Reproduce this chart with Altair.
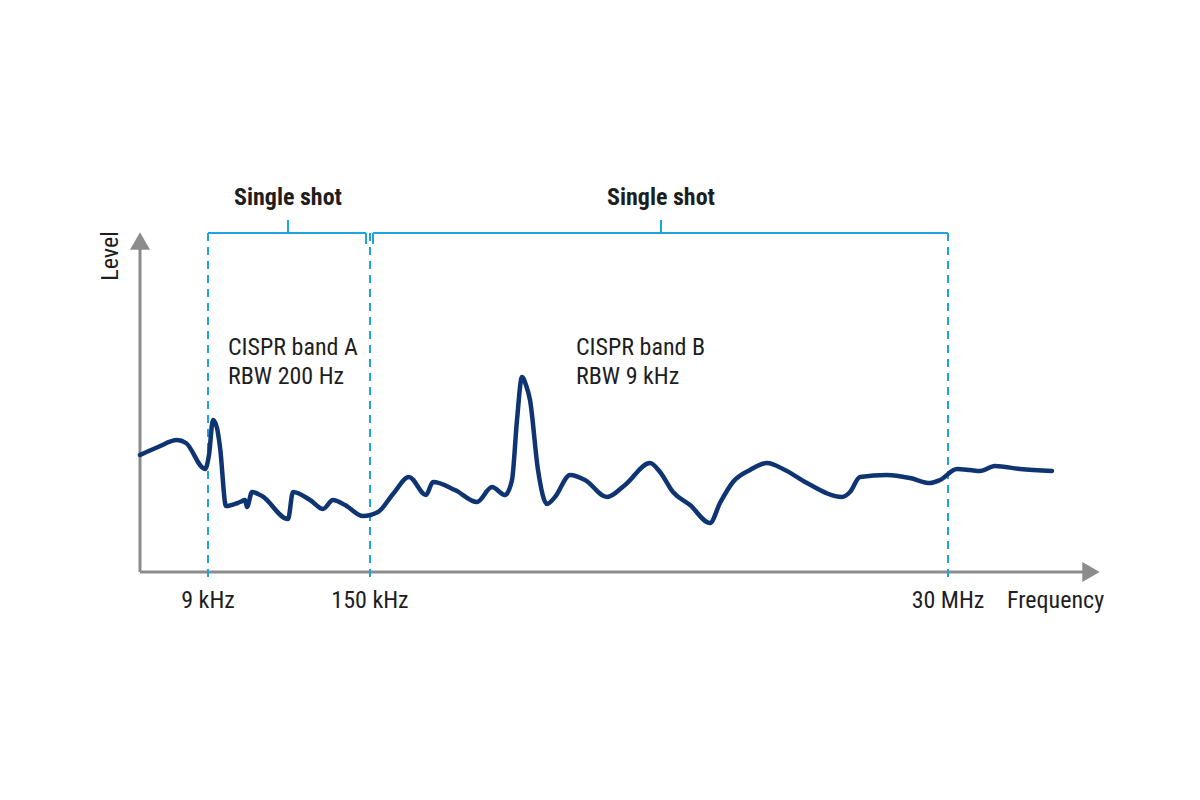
import altair as alt
import pandas as pd

# ---- schematic spectrum: x = position along frequency axis, y = level above axis
curve_x = [0, 18, 37, 46, 65, 69, 73, 77, 80, 86, 100, 105, 107, 112, 122, 148, 153, 170, 183, 193,
           205, 223, 238, 253, 269, 286, 293, 315, 337, 352, 365, 372, 377, 382, 386, 390, 398, 407,
           415, 430, 445, 467, 485, 510, 520, 533, 550, 570, 580, 593, 610, 627, 645, 667, 702, 710,
           720, 747, 770, 790, 800, 817, 830, 840, 855, 880, 912]
curve_y = [117, 125, 132, 129, 103, 117, 152, 144, 125, 66, 70, 72, 65, 80, 76, 53, 80, 72, 63, 72,
           67, 56, 60, 78, 95, 77, 90, 82, 70, 85, 77, 92, 152, 195, 187, 172, 102, 68,
           75, 97, 92, 75, 87, 109, 100, 80, 67, 49, 69, 90, 102, 109, 102, 89, 75, 80,
           95, 97, 94, 89, 92, 103, 102, 101, 106, 103, 101]

# frequency markers
marker_labels = ["9 kHz", "150 kHz", "30 MHz"]
marker_pos = [68, 230, 808]

# axis extents
x_axis_end = 960
y_axis_end = 340

# bands / brackets
band_start = [68, 233]
band_end = [226, 808]
band_mid = [148, 521]
band_title = ["Single shot", "Single shot"]
band_line1 = ["CISPR band A", "CISPR band B"]
band_line2 = ["RBW 200 Hz", "RBW 9 kHz"]
band_text_x = [88, 436]
bracket_y = 339

XD = [-140, 1060]
YD = [-228, 572]
FONT = "Roboto Condensed, Liberation Sans Narrow, Arial Narrow, DejaVu Sans Condensed, sans-serif"
GRAY = "#8c8c8c"
BLUE = "#1ea4df"
NAVY = "#0f3472"
TXT = "#1e1e1e"


def X(f, **kw):
    return alt.X(f, type="quantitative", scale=alt.Scale(domain=XD, nice=False, zero=False), axis=None, **kw)


def Y(f, **kw):
    return alt.Y(f, type="quantitative", scale=alt.Scale(domain=YD, nice=False, zero=False), axis=None, **kw)


curve = pd.DataFrame({"x": curve_x, "y": curve_y})

axes_df = pd.DataFrame({
    "x": [0, 0], "y": [0, 0],
    "x2": [0, x_axis_end - 15], "y2": [y_axis_end - 15, 0],
})
arrows_df = pd.DataFrame({
    "x": [0, x_axis_end - 9], "y": [y_axis_end - 9, 0],
    "shape": ["triangle-up", "triangle-right"],
})

dash_df = pd.DataFrame({"x": marker_pos, "y": [bracket_y] * 3, "y2": [-11] * 3})
bracket_df = pd.DataFrame({"x": band_start, "x2": band_end, "y": [bracket_y] * 2})
ticks_df = pd.DataFrame({"x": band_mid, "y": [bracket_y] * 2, "y2": [bracket_y + 13] * 2})
inner_df = pd.DataFrame({"x": [band_end[0], band_start[1]], "y": [bracket_y] * 2,
                         "y2": [bracket_y - 11] * 2})

title_df = pd.DataFrame({"x": band_mid, "y": [367] * 2, "t": band_title})
band_df = pd.DataFrame({
    "x": band_text_x * 2,
    "y": [217, 217, 188, 188],
    "t": band_line1 + band_line2,
})
mlab_df = pd.DataFrame({"x": marker_pos, "y": [-36] * 3, "t": marker_labels})
freq_df = pd.DataFrame({"x": [867], "y": [-36], "t": ["Frequency"]})
level_df = pd.DataFrame({"x": [-22], "y": [316], "t": ["Level"]})

axes = alt.Chart(axes_df).mark_rule(color=GRAY, strokeWidth=3).encode(
    x=X("x"), y=Y("y"), x2="x2", y2="y2")
arrows = alt.Chart(arrows_df).mark_point(filled=True, color=GRAY, size=400, opacity=1).encode(
    x=X("x"), y=Y("y"),
    shape=alt.Shape("shape:N", scale=None, legend=None))

dashes = alt.Chart(dash_df).mark_rule(color=BLUE, strokeWidth=2, strokeDash=[8, 6]).encode(
    x=X("x"), y=Y("y"), y2="y2")
brackets = alt.Chart(bracket_df).mark_rule(color=BLUE, strokeWidth=2).encode(
    x=X("x"), x2="x2", y=Y("y"))
ticks = alt.Chart(ticks_df).mark_rule(color=BLUE, strokeWidth=2).encode(
    x=X("x"), y=Y("y"), y2="y2")
inner = alt.Chart(inner_df).mark_rule(color=BLUE, strokeWidth=2).encode(
    x=X("x"), y=Y("y"), y2="y2")

line = alt.Chart(curve).mark_line(color=NAVY, strokeWidth=4.5, interpolate="monotone",
                                  strokeCap="round", strokeJoin="round").encode(
    x=X("x"), y=Y("y"))

titles = alt.Chart(title_df).mark_text(font=FONT, fontSize=24, fontWeight="bold", color=TXT,
                                       align="center", baseline="alphabetic").encode(
    x=X("x"), y=Y("y"), text="t:N")
bands = alt.Chart(band_df).mark_text(font=FONT, fontSize=24, color=TXT,
                                     align="left", baseline="alphabetic").encode(
    x=X("x"), y=Y("y"), text="t:N")
mlabs = alt.Chart(mlab_df).mark_text(font=FONT, fontSize=24, color=TXT,
                                     align="center", baseline="alphabetic").encode(
    x=X("x"), y=Y("y"), text="t:N")
freq = alt.Chart(freq_df).mark_text(font=FONT, fontSize=24, color=TXT,
                                    align="left", baseline="alphabetic").encode(
    x=X("x"), y=Y("y"), text="t:N")
level = alt.Chart(level_df).mark_text(font=FONT, fontSize=24, color=TXT, angle=270,
                                      align="center", baseline="alphabetic").encode(
    x=X("x"), y=Y("y"), text="t:N")

chart = alt.layer(axes, arrows, dashes, brackets, ticks, inner, line,
                  titles, bands, mlabs, freq, level).properties(
    width=1200, height=800, padding=0, background="white",
    autosize=alt.AutoSizeParams(type="none"),
).configure_view(stroke=None)

chart.save("out.html", embed_options={"renderer": "svg", "actions": False})
